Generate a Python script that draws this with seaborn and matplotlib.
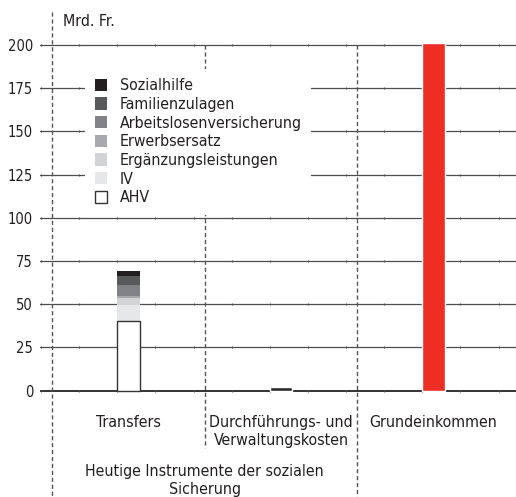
import numpy as np
import pandas as pd
import matplotlib
matplotlib.use("Agg")
import matplotlib.pyplot as plt
import seaborn as sns

# Data (Mrd. Fr.)
categories = ["Transfers", "Durchführungs- und\nVerwaltungskosten", "Grundeinkommen"]
group_label = "Heutige Instrumente der sozialen\nSicherung"

# Transfers stack, bottom to top
stack_labels = ["AHV", "IV", "Ergänzungsleistungen", "Erwerbsersatz",
                "Arbeitslosenversicherung", "Familienzulagen", "Sozialhilfe"]
stack_values = [40.2, 9.1, 4.2, 1.5, 5.9, 5.2, 2.9]
stack_colors = ["#ffffff", "#e6e7e8", "#d1d3d4", "#a7a9ac",
                "#808285", "#58595b", "#231f20"]

admin_costs = 2.0
basic_income = 201.0

yticks = [0, 25, 50, 75, 100, 125, 150, 175, 200]

sns.set_style("white")
plt.rcParams["font.family"] = ["DejaVu Sans"]
plt.rcParams["font.stretch"] = "condensed"
plt.rcParams["font.size"] = 11.4

W, H = 516, 497
fig = plt.figure(figsize=(W / 100, H / 100), dpi=100)
ax = fig.add_axes([40 / W, 0, 476 / W, 1])

text_color = "#231f20"
line_color = "#4d4d4d"
bar_w = 0.15

# stacked Transfers bar: draw cumulative totals from the top down
cum = np.cumsum(stack_values)
for i in range(len(stack_labels) - 1, -1, -1):
    df = pd.DataFrame({"cat": [categories[0]], "val": [cum[i]]})
    edge = "#333333" if i == 0 else "none"
    sns.barplot(data=df, x="cat", y="val", order=categories, ax=ax,
                color=stack_colors[i], saturation=1, width=bar_w,
                edgecolor=edge, linewidth=1.0 if i == 0 else 0,
                label=stack_labels[i], zorder=3)

df = pd.DataFrame({"cat": [categories[1]], "val": [admin_costs]})
sns.barplot(data=df, x="cat", y="val", order=categories, ax=ax,
            color="#2b2b2b", saturation=1, width=bar_w, zorder=3)
df = pd.DataFrame({"cat": [categories[2]], "val": [basic_income]})
sns.barplot(data=df, x="cat", y="val", order=categories, ax=ax,
            color="#ee2e24", saturation=1, width=bar_w, zorder=3)

ax.set_xlim(-0.580, 2.541)
ax.set_ylim(-61.5, 226.0)
ax.set_yticks(yticks)
ax.set_yticklabels([str(v) for v in yticks], color=text_color, fontsize=10.5)
ax.tick_params(axis="y", length=0, pad=5)
ax.set_xticks([])
ax.set_xlabel("")
ax.set_ylabel("")
for s in ax.spines.values():
    s.set_visible(False)

# horizontal gridlines with small ticks
for v in yticks:
    ax.axhline(v, color="#333333" if v == 0 else line_color,
               lw=1.4 if v == 0 else 0.9, zorder=1)
minor_x = -0.0734 + 0.25 * np.arange(-2, 11)
mx, my = np.meshgrid(minor_x, yticks)
ax.plot(mx.ravel(), my.ravel(), "|", ms=1.6, mew=0.8, color=line_color, zorder=1)

# dashed separators between categories
dash = dict(color="#555555", lw=1, linestyle=(0, (3, 2)), zorder=2, clip_on=False)
ax.plot([-0.5, -0.5], [219, -61.5], **dash)
ax.plot([0.5, 0.5], [200, -33], **dash)
ax.plot([1.5, 1.5], [200, -61.5], **dash)

# labels
ax.text(-0.43, 213.3, "Mrd. Fr.", ha="left", va="center", color=text_color)
for i, c in enumerate(categories):
    ax.text(i, -14.0, c, ha="center", va="top", color=text_color,
            linespacing=1.25)
ax.text(0.5, -42.3, group_label, ha="center", va="top", color=text_color,
        linespacing=1.25)

leg = ax.legend(loc="upper left", bbox_to_anchor=(85 / W, 1 - 69 / H),
                bbox_transform=fig.transFigure, frameon=True, fancybox=False,
                facecolor="white", edgecolor="none", framealpha=1,
                handlelength=0.82, handleheight=0.82, handletextpad=0.76,
                labelspacing=0.23, borderpad=0.6, borderaxespad=0,
                fontsize=11.4)
leg.set_zorder(10)
for t in leg.get_texts():
    t.set_color(text_color)

fig.savefig("out.png", dpi=100)
